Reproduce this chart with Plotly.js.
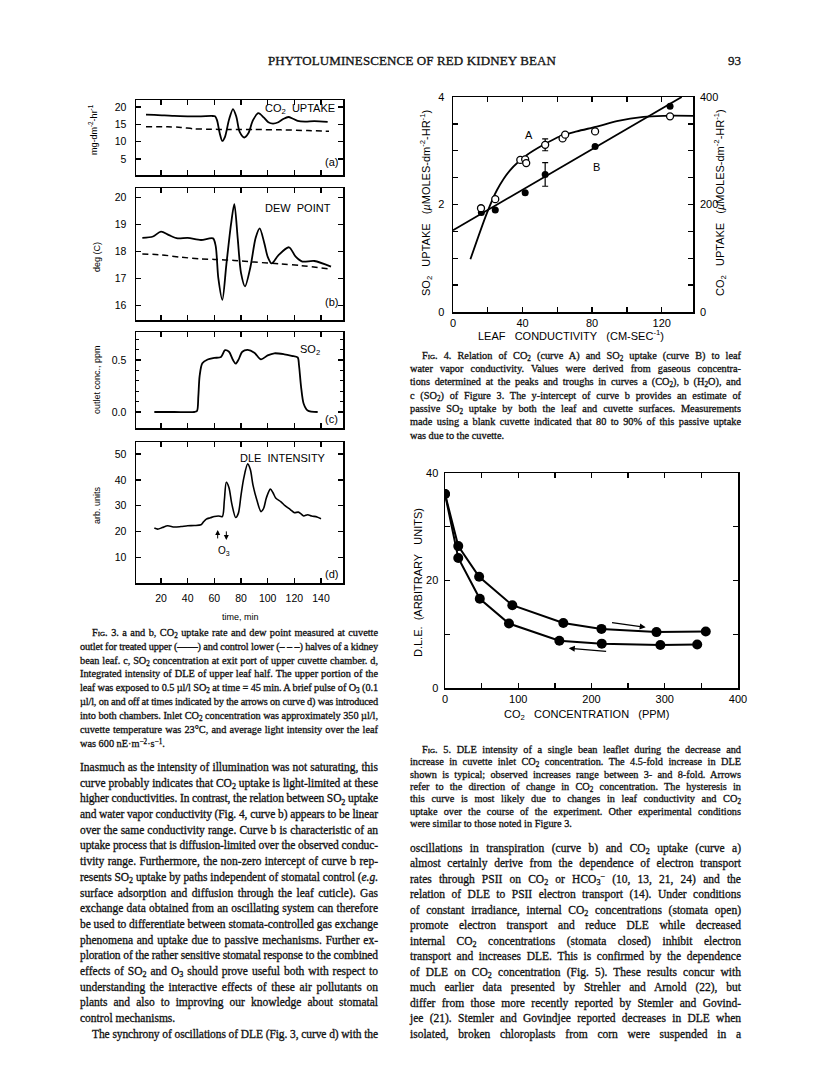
<!DOCTYPE html>
<html>
<head>
<meta charset="utf-8">
<script src="https://cdn.plot.ly/plotly-3.0.1.min.js"></script>
<style>
body { margin: 0; background: #fff; }
#page { position: relative; width: 816px; height: 1073px; overflow: hidden; background: #fff; }
#chart { position: absolute; left: 0; top: 0; width: 816px; height: 1073px; }
.ln { position: absolute; white-space: nowrap; font-family: "Liberation Serif", "Times New Roman", serif;
      color: #111; line-height: 1; -webkit-text-stroke: 0.3px #111; }
.ln sub, .ln sup { font-size: 70%; line-height: 0; position: relative; vertical-align: baseline; }
.ln sub { top: 0.3em; }
.ln sup { top: -0.45em; }
.sc { font-variant: small-caps; }
</style>
</head>
<body>
<div id="page"><div id="chart"></div></div>
<script>
// ---- Fig. 3 data (time in min) ----
a_solid_t = [8.75, 15, 22.5, 30, 40, 50, 58, 60.5, 62, 64, 66, 68, 71, 74, 76.5, 79, 82.5, 85.5, 89, 93, 97, 100.5, 104, 108, 112, 115.5, 119, 122.5, 128, 135, 145];
a_solid_v = [17.8, 17.7, 17.6, 17.4, 17.3, 17.3, 17.4, 17.3, 16.2, 12.5, 10.2, 11.4, 16.3, 19.4, 17.2, 12.8, 11.2, 12.4, 16.2, 18.2, 17.0, 15.6, 15.2, 15.6, 16.6, 17.1, 16.6, 16.0, 15.8, 15.9, 15.7];
a_dash_t  = [8.75, 25, 35, 45, 55, 70, 90, 110, 130, 146];
a_dash_v  = [14.3, 14.3, 14.1, 13.7, 13.6, 13.5, 13.5, 13.4, 13.2, 13.0];

b_solid_t = [6, 14, 20, 26, 32.5, 40, 50, 59, 61, 63, 66, 69, 72.5, 75, 77.5, 80, 83, 87, 91, 94, 97.5, 100, 103, 108, 116, 121, 126, 135, 147.5];
b_solid_v = [18.5, 18.55, 18.73, 18.6, 18.48, 18.5, 18.42, 18.48, 18.2, 17.0, 16.2, 17.5, 19.0, 19.75, 18.5, 17.2, 16.7, 17.4, 18.5, 18.85, 18.3, 17.8, 17.55, 17.85, 18.15, 17.8, 17.62, 17.64, 17.43];
b_dash_t  = [6, 20, 35, 50, 60, 75, 90, 110, 125, 146];
b_dash_v  = [17.9, 17.87, 17.78, 17.72, 17.7, 17.66, 17.6, 17.53, 17.47, 17.35];

c_t = [15, 30, 45, 47, 48, 49, 51, 55, 60, 65, 68, 71, 74, 76, 78, 81, 85, 90, 95, 100, 105, 112.5, 118, 122.5, 123.5, 125, 127, 130, 137.5];
c_v = [0, 0, 0, 0.01, 0.15, 0.35, 0.47, 0.505, 0.52, 0.53, 0.595, 0.58, 0.5, 0.465, 0.5, 0.58, 0.597, 0.57, 0.506, 0.545, 0.565, 0.555, 0.54, 0.525, 0.45, 0.25, 0.08, 0.015, 0];

d_t = [15, 17.5, 21, 25, 30, 35, 40, 45, 50, 52, 54, 57, 60, 63, 66, 67.5, 69, 71, 73, 76, 78, 80, 82, 85, 87, 89, 92, 95, 97, 99, 102, 104, 106, 110, 113, 117, 120, 123, 125, 127, 130, 133, 137, 140];
d_v = [21.3, 20.9, 21.5, 22.2, 21.7, 21.9, 22.2, 22.3, 22.6, 23.8, 24.8, 25.3, 25.8, 26.0, 25.8, 32, 39.1, 37, 31, 25.4, 27, 34, 40.5, 46.2, 44, 38, 32, 27.7, 29, 33, 36.4, 35, 33, 31.5, 30, 28.5, 27.3, 27.5, 26.8, 26.0, 26.5, 26.0, 25.6, 24.9];

o3_on  = [62.5, 16.7, 20.6];   // time, tail, head
o3_off = [69, 20.6, 16.7];

time_ticks = [20, 40, 60, 80, 100, 120, 140];

// ---- Fig. 4 data (leaf conductivity) ----
cond_A   = [16.1, 24.3, 38.7, 41.5, 42.1, 53.0, 63.0, 64.5, 81.7, 124.8];
co2_A    = [193, 210, 283, 284, 277, 311, 323, 330, 336, 364];
co2_err  = [0, 0, 0, 0, 0, 11, 0, 0, 0, 0];
cond_B   = [16.3, 24.3, 41.5, 53.0, 81.7, 124.8];
so2_B    = [1.85, 1.90, 2.22, 2.56, 3.08, 3.83];
so2_err  = [0, 0, 0, 0.22, 0, 0];
fitA_x   = [10, 19.5, 25.3, 32.9, 42.5, 52, 61.6, 71.2, 82.7, 94.2, 109.5, 121, 138];
fitA_y   = [98, 184, 227, 264, 292, 311, 327, 336, 345, 355, 363, 365, 365];
fitB_x   = [0, 131.5];
fitB_y   = [1.52, 4.0];

// ---- Fig. 5 data (CO2 ppm vs DLE) ----
co2_up    = [0, 18.1, 46.6, 91.9, 161.5, 213.6, 288.7, 356];
dle_up    = [36.1, 26.4, 20.7, 15.4, 12.1, 11.0, 10.4, 10.5];
co2_down  = [0, 18.1, 47.5, 87.3, 156.1, 214, 294, 344.3];
dle_down  = [36.1, 24.2, 16.6, 12.0, 8.8, 8.25, 8.0, 8.1];
arrow_up   = [226, 12.2, 274, 11.3];   // tail x, y, head x, y
arrow_down = [222, 6.8, 169, 7.4];

// ---- page text ----
header_text = 'PHYTOLUMINESCENCE OF RED KIDNEY BEAN';

fig3_caption = [
  '<span class="sc">Fig.</span> 3. a and b, CO<sub>2</sub> uptake rate and dew point measured at cuvette',
  'outlet for treated upper (——) and control lower (– – –) halves of a kidney',
  'bean leaf. c, SO<sub>2</sub> concentration at exit port of upper cuvette chamber. d,',
  'Integrated intensity of DLE of upper leaf half. The upper portion of the',
  'leaf was exposed to 0.5 µl/l SO<sub>2</sub> at time = 45 min. A brief pulse of O<sub>3</sub> (0.1',
  'µl/l, on and off at times indicated by the arrows on curve d) was introduced',
  'into both chambers. Inlet CO<sub>2</sub> concentration was approximately 350 µl/l,',
  'cuvette temperature was 23°C, and average light intensity over the leaf',
  'was 600 nE·m<sup>−2</sup>·s<sup>−1</sup>.'
];

left_body = [
  'Inasmuch as the intensity of illumination was not saturating, this',
  'curve probably indicates that CO<sub>2</sub> uptake is light-limited at these',
  'higher conductivities. In contrast, the relation between SO<sub>2</sub> uptake',
  'and water vapor conductivity (Fig. 4, curve b) appears to be linear',
  'over the same conductivity range. Curve b is characteristic of an',
  'uptake process that is diffusion-limited over the observed conduc-',
  'tivity range. Furthermore, the non-zero intercept of curve b rep-',
  'resents SO<sub>2</sub> uptake by paths independent of stomatal control (<i>e.g.</i>',
  'surface adsorption and diffusion through the leaf cuticle). Gas',
  'exchange data obtained from an oscillating system can therefore',
  'be used to differentiate between stomata-controlled gas exchange',
  'phenomena and uptake due to passive mechanisms. Further ex-',
  'ploration of the rather sensitive stomatal response to the combined',
  'effects of SO<sub>2</sub> and O<sub>3</sub> should prove useful both with respect to',
  'understanding the interactive effects of these air pollutants on',
  'plants and also to improving our knowledge about stomatal',
  'control mechanisms.',
  'The synchrony of oscillations of DLE (Fig. 3, curve d) with the'
];

fig4_caption = [
  '<span class="sc">Fig.</span> 4. Relation of CO<sub>2</sub> (curve A) and SO<sub>2</sub> uptake (curve B) to leaf',
  'water vapor conductivity. Values were derived from gaseous concentra-',
  'tions determined at the peaks and troughs in curves a (CO<sub>2</sub>), b (H<sub>2</sub>O), and',
  'c (SO<sub>2</sub>) of Figure 3. The y-intercept of curve b provides an estimate of',
  'passive SO<sub>2</sub> uptake by both the leaf and cuvette surfaces. Measurements',
  'made using a blank cuvette indicated that 80 to 90% of this passive uptake',
  'was due to the cuvette.'
];

fig5_caption = [
  '<span class="sc">Fig.</span> 5. DLE intensity of a single bean leaflet during the decrease and',
  'increase in cuvette inlet CO<sub>2</sub> concentration. The 4.5-fold increase in DLE',
  'shown is typical; observed increases range between 3- and 8-fold. Arrows',
  'refer to the direction of change in CO<sub>2</sub> concentration. The hysteresis in',
  'this curve is most likely due to changes in leaf conductivity and CO<sub>2</sub>',
  'uptake over the course of the experiment. Other experimental conditions',
  'were similar to those noted in Figure 3.'
];

right_body = [
  'oscillations in transpiration (curve b) and CO<sub>2</sub> uptake (curve a)',
  'almost certainly derive from the dependence of electron transport',
  'rates through PSII on CO<sub>2</sub> or HCO<sub>3</sub><sup>−</sup> (10, 13, 21, 24) and the',
  'relation of DLE to PSII electron transport (14). Under conditions',
  'of constant irradiance, internal CO<sub>2</sub> concentrations (stomata open)',
  'promote electron transport and reduce DLE while decreased',
  'internal CO<sub>2</sub> concentrations (stomata closed) inhibit electron',
  'transport and increases DLE. This is confirmed by the dependence',
  'of DLE on CO<sub>2</sub> concentration (Fig. 5). These results concur with',
  'much earlier data presented by Strehler and Arnold (22), but',
  'differ from those more recently reported by Stemler and Govind-',
  'jee (21). Stemler and Govindjee reported decreases in DLE when',
  'isolated, broken chloroplasts from corn were suspended in a'
];


// Page geometry helpers
var W = 816, H = 1073;
var sans = 'Liberation Sans, Arial, sans-serif';
function px(x) { return x / W; }
function py(y) { return 1 - y / H; }
function xdom(x0, x1) { return [px(x0), px(x1)]; }
function ydom(top, bottom) { return [py(bottom), py(top)]; }

function axis(domain, range, anchor, more) {
    var a = {
        domain: domain, range: range, anchor: anchor,
        showline: true, mirror: 'ticks', linecolor: '#000', linewidth: 1.5,
        ticks: 'inside', ticklen: 5, tickwidth: 1.3, tickcolor: '#000',
        showgrid: false, zeroline: false, fixedrange: true,
        tickfont: {family: sans, size: 10.5, color: '#000'}
    };
    for (var k in more) a[k] = more[k];
    return a;
}

function minor(vals, len) {
    return {tickvals: vals, ticks: 'inside', ticklen: len || 5, tickwidth: 1.3, tickcolor: '#000', showgrid: false};
}

function line_trace(x, y, xa, ya, dash, width) {
    return {x: x, y: y, xaxis: xa, yaxis: ya, mode: 'lines', hoverinfo: 'skip',
            line: {color: '#000', width: width || 1.8, dash: dash || 'solid', shape: 'spline', smoothing: 0.8}};
}

function label(xref, yref, x, y, text, size, anchor) {
    return {xref: xref, yref: yref, x: x, y: y, text: text, showarrow: false,
            xanchor: anchor || 'right', yanchor: 'middle',
            font: {family: sans, size: size || 11, color: '#000'}};
}

function page_label(x, y, text, size, angle) {
    return {xref: 'paper', yref: 'paper', x: px(x), y: py(y), text: text, showarrow: false,
            textangle: angle || 0, xanchor: 'center', yanchor: 'middle',
            font: {family: sans, size: size, color: '#000'}};
}

function arrow(xref, yref, a, width) {
    return {xref: xref, yref: yref, axref: xref, ayref: yref,
            x: a[2], y: a[3], ax: a[0], ay: a[1], text: '', showarrow: true,
            arrowhead: 2, arrowsize: 1, arrowwidth: width || 1.2, arrowcolor: '#000'};
}

function draw_charts() {
    var fx = xdom(136, 343);
    var trange = [1.25, 156.5];
    var tnolab = {tickvals: time_ticks, showticklabels: false};
    var big = {family: sans, size: 11, color: '#000'};

    var layout = {
        width: W, height: H, margin: {l: 0, r: 0, t: 0, b: 0},
        paper_bgcolor: 'rgba(0,0,0,0)', plot_bgcolor: 'rgba(0,0,0,0)',
        showlegend: false,

        xaxis:  axis(fx, trange, 'y', tnolab),
        yaxis:  axis(ydom(100, 175), [0.4, 22], 'x', {tickvals: [5, 10, 15, 20], ticklabelstandoff: 6}),
        xaxis2: axis(fx, trange, 'y2', tnolab),
        yaxis2: axis(ydom(188, 320), [15.45, 20.35], 'x2', {tickvals: [16, 17, 18, 19, 20], ticklabelstandoff: 6}),
        xaxis3: axis(fx, trange, 'y3', tnolab),
        yaxis3: axis(ydom(332, 428), [-0.154, 0.77], 'x3', {tickvals: [0, 0.5], ticktext: ['0.0', '0.5'], ticklabelstandoff: 6,
                     minor: minor([0.1, 0.2, 0.3, 0.4, 0.6, 0.7], 3)}),
        xaxis4: axis(fx, trange, 'y4', {tickvals: time_ticks, ticklabelstandoff: 5}),
        yaxis4: axis(ydom(442, 583), [0, 54.7], 'x4', {tickvals: [10, 20, 30, 40, 50], ticklabelstandoff: 6}),

        xaxis5: axis(xdom(453, 693), [0, 138], 'y5', {
            tickvals: [0, 40, 80, 120], minor: minor([20, 60, 100]), tickfont: big, ticklabelstandoff: 0}),
        yaxis5: axis(ydom(97, 312), [0, 4], 'x5', {
            tickvals: [0, 2, 4], minor: minor([0.5, 1, 1.5, 2.5, 3, 3.5]), tickfont: big, ticklabelstandoff: 5}),
        yaxis6: {domain: ydom(97, 312), range: [0, 400], anchor: 'x5', overlaying: 'y5', side: 'right',
                 showline: false, ticks: '', showgrid: false, zeroline: false, fixedrange: true,
                 tickvals: [0, 200, 400], ticklabelstandoff: 6, tickfont: big},

        xaxis6: axis(xdom(445, 738), [0, 400], 'y7', {
            tickvals: [0, 100, 200, 300, 400], minor: minor([50, 150, 250, 350]), tickfont: big, ticklabelstandoff: 0}),
        yaxis7: axis(ydom(473, 688), [0, 40], 'x6', {
            tickvals: [0, 20, 40], minor: minor([10, 30]), tickfont: big, ticklabelstandoff: 3}),

        annotations: [
            label('x', 'y', 152, 19.4, 'CO<sub>2</sub>\u00a0 UPTAKE'),
            label('x', 'y', 154.5, 4.1, '(a)'),
            label('x2', 'y2', 149, 19.6, 'DEW\u00a0 POINT'),
            label('x2', 'y2', 154.5, 16.1, '(b)'),
            label('x3', 'y3', 141, 0.6, 'SO<sub>2</sub>'),
            label('x3', 'y3', 154.5, -0.07, '(c)'),
            label('x4', 'y4', 145, 48.4, 'DLE\u00a0 INTENSITY'),
            label('x4', 'y4', 154.5, 3.6, '(d)'),
            label('x4', 'y4', 67.5, 12.6, 'O<sub>3</sub>', 10, 'center'),
            arrow('x4', 'y4', [o3_on[0], o3_on[1], o3_on[0], o3_on[2]], 1),
            arrow('x4', 'y4', [o3_off[0], o3_off[1], o3_off[0], o3_off[2]], 1),
            page_label(93, 130, 'mg-dm<sup>-2</sup>-hr<sup>-1</sup>', 9, -90),
            page_label(97, 257, 'deg (C)', 9, -90),
            page_label(97, 380, 'outlet conc., ppm', 9, -90),
            page_label(97, 505, 'arb. units', 9, -90),
            page_label(240, 617, 'time, min', 9),

            label('x5', 'y5', 43.6, 3.29, 'A', 11, 'center'),
            label('x5', 'y5', 82.7, 2.70, 'B', 11, 'center'),
            page_label(426, 203, 'SO<sub>2</sub>\u00a0\u00a0 UPTAKE\u00a0\u00a0 (<i>µ</i>MOLES-dm<sup>-2</sup>-HR<sup>-1</sup>)', 11, -90),
            page_label(720, 203, 'CO<sub>2</sub>\u00a0\u00a0 UPTAKE\u00a0\u00a0 (<i>µ</i>MOLES-dm<sup>-2</sup>-HR<sup>-1</sup>)', 11, -90),
            page_label(571, 335, 'LEAF\u00a0\u00a0 CONDUCTIVITY\u00a0\u00a0 (CM-SEC<sup>-1</sup>)', 11),

            page_label(418, 582, 'D.L.E.\u00a0 (ARBITRARY\u00a0\u00a0 UNITS)', 11, -90),
            page_label(586, 715, 'CO<sub>2</sub>\u00a0\u00a0 CONCENTRATION\u00a0\u00a0 (PPM)', 11),
            arrow('x6', 'y7', arrow_up, 1.2),
            arrow('x6', 'y7', arrow_down, 1.2)
        ]
    };

    var data = [
        line_trace(a_solid_t, a_solid_v, 'x', 'y'),
        line_trace(a_dash_t, a_dash_v, 'x', 'y', '6px,4px', 1.5),
        line_trace(b_solid_t, b_solid_v, 'x2', 'y2'),
        line_trace(b_dash_t, b_dash_v, 'x2', 'y2', '6px,4px', 1.5),
        line_trace(c_t, c_v, 'x3', 'y3'),
        line_trace(d_t, d_v, 'x4', 'y4', 'solid', 1.6),

        // Fig. 4 fitted curves
        line_trace(fitA_x, fitA_y, 'x5', 'y6'),
        {x: fitB_x, y: fitB_y, xaxis: 'x5', yaxis: 'y5', mode: 'lines', hoverinfo: 'skip',
         line: {color: '#000', width: 1.8}},
        // Fig. 4 points
        {x: cond_A, y: co2_A, xaxis: 'x5', yaxis: 'y6', mode: 'markers', hoverinfo: 'skip',
         error_y: {type: 'data', array: co2_err, color: '#000', thickness: 1.2, width: 3},
         marker: {symbol: 'circle', size: 7, color: '#fff', line: {color: '#000', width: 1.3}}},
        {x: cond_B, y: so2_B, xaxis: 'x5', yaxis: 'y5', mode: 'markers', hoverinfo: 'skip',
         error_y: {type: 'data', array: so2_err, color: '#000', thickness: 1.2, width: 3},
         marker: {symbol: 'circle', size: 7, color: '#000'}},

        // Fig. 5
        {x: co2_up, y: dle_up, xaxis: 'x6', yaxis: 'y7', mode: 'lines+markers', hoverinfo: 'skip',
         line: {color: '#000', width: 2}, marker: {size: 10, color: '#000'}},
        {x: co2_down, y: dle_down, xaxis: 'x6', yaxis: 'y7', mode: 'lines+markers', hoverinfo: 'skip',
         line: {color: '#000', width: 2}, marker: {size: 10, color: '#000'}}
    ];

    Plotly.newPlot('chart', data, layout, {staticPlot: true, displayModeBar: false});
}


// Text lines, each stretched to the column width like the printed page
function put_block(lines, x, width, y0, dy, fs, indent, ragged) {
    var page = document.getElementById('page');
    for (var i = 0; i < lines.length; i++) {
        var el = document.createElement('div');
        el.className = 'ln';
        el.innerHTML = lines[i];
        el.style.fontSize = fs + 'px';
        var ind = indent.indexOf(i) >= 0 ? 12 : 0;
        el.style.left = (x + ind) + 'px';
        el.style.top = (y0 + i * dy - 0.61 * fs) + 'px';
        page.appendChild(el);

        var target = width - ind;
        var w = el.getBoundingClientRect().width;
        var txt = el.textContent;
        var spaces = txt.split(' ').length - 1;
        if (w > target) {
            el.style.letterSpacing = ((target - w) / txt.length) + 'px';
        } else if (ragged.indexOf(i) < 0 && spaces > 0) {
            el.style.wordSpacing = ((target - w) / spaces) + 'px';
        }
    }
}

function draw_text() {
    var page = document.getElementById('page');

    var head = document.createElement('div');
    head.className = 'ln';
    head.textContent = header_text;
    head.style.fontSize = '13px';
    head.style.left = '268px';
    head.style.top = (62 - 0.61 * 13) + 'px';
    page.appendChild(head);
    var hw = head.getBoundingClientRect().width;
    head.style.letterSpacing = ((288 - hw) / header_text.length) + 'px';

    var num = document.createElement('div');
    num.className = 'ln';
    num.textContent = '93';
    num.style.fontSize = '13px';
    num.style.left = '728px';
    num.style.top = (62 - 0.61 * 13) + 'px';
    page.appendChild(num);

    put_block(fig3_caption, 80, 298, 634, 13.9, 10.3, [0], [8]);
    put_block(left_body, 80, 298, 769, 15.7, 11.5, [17], [16]);
    put_block(fig4_caption, 410, 331, 357, 13.3, 10.3, [0], [6]);
    put_block(fig5_caption, 410, 331, 751, 12.4, 10.3, [0], [6]);
    put_block(right_body, 410, 331, 850, 15.5, 11.5, [], []);
}

draw_charts();
draw_text();
</script>
</body>
</html>
